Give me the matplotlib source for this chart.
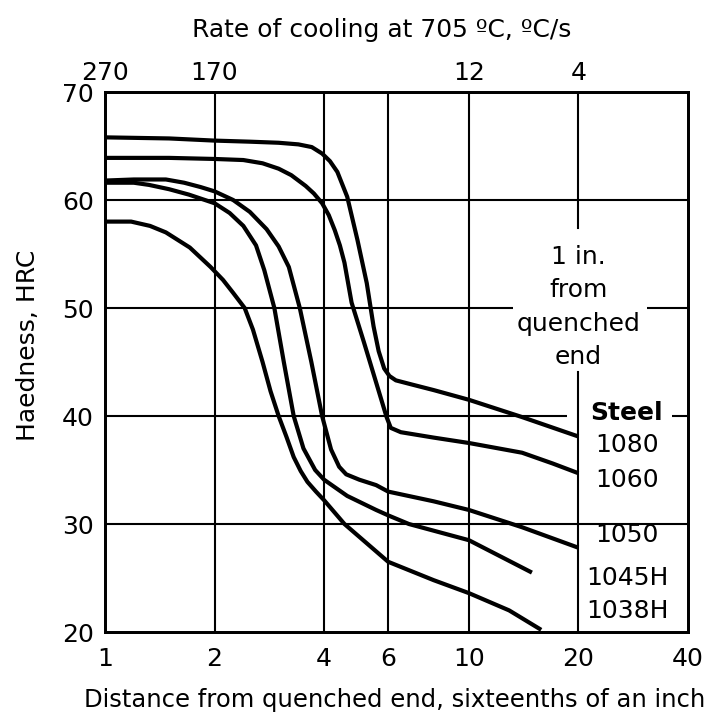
import matplotlib
matplotlib.use("Agg")
import matplotlib.pyplot as plt
from matplotlib.ticker import FixedLocator, NullLocator, FixedFormatter

plt.rcParams['font.family'] = ['DejaVu Sans']

# ---- data (distance in sixteenths of an inch, hardness HRC) ----
dist_1080 = [1, 1.5, 2, 2.5, 3, 3.4, 3.7, 3.95, 4.15, 4.35, 4.63, 4.94, 5.24, 5.47, 5.65, 5.85, 6.05, 6.3, 7, 8, 10, 14, 20]
hrc_1080 = [65.8, 65.7, 65.5, 65.4, 65.3, 65.15, 64.9, 64.3, 63.6, 62.6, 60.3, 56.3, 52.3, 48.3, 46.0, 44.4, 43.7, 43.3, 42.9, 42.4, 41.5, 39.9, 38.1]

dist_1060 = [1, 1.5, 2, 2.4, 2.71, 3.0, 3.25, 3.56, 3.75, 3.95, 4.12, 4.28, 4.42, 4.55, 4.76, 5.15, 5.56, 5.94, 6.1, 6.5, 8, 10, 14, 17, 20]
hrc_1060 = [63.9, 63.9, 63.8, 63.7, 63.4, 62.9, 62.3, 61.3, 60.6, 59.7, 58.6, 57.2, 55.8, 54.2, 50.5, 46.8, 43.1, 39.9, 38.9, 38.5, 38.0, 37.5, 36.6, 35.6, 34.7]

dist_1050 = [1, 1.2, 1.47, 1.65, 1.83, 2.0, 2.25, 2.5, 2.78, 3.0, 3.2, 3.43, 3.69, 3.95, 4.18, 4.4, 4.6, 5.0, 5.56, 6.0, 8, 10, 14, 20]
hrc_1050 = [61.8, 61.9, 61.9, 61.6, 61.2, 60.8, 60.0, 58.9, 57.3, 55.7, 53.8, 50.0, 45.0, 40.0, 36.9, 35.3, 34.6, 34.1, 33.6, 33.0, 32.1, 31.3, 29.7, 27.8]

dist_1045 = [1, 1.2, 1.32, 1.5, 1.7, 2, 2.2, 2.4, 2.6, 2.74, 2.92, 3.1, 3.3, 3.51, 3.78, 4.0, 4.63, 5.56, 6.0, 6.84, 10, 14.9]
hrc_1045 = [61.6, 61.6, 61.4, 61.0, 60.5, 59.7, 58.8, 57.6, 55.8, 53.5, 50.0, 45.0, 40.0, 37.0, 35.0, 34.1, 32.6, 31.3, 30.8, 30.0, 28.5, 25.5]

dist_1038 = [1, 1.18, 1.33, 1.47, 1.71, 1.95, 2.11, 2.25, 2.42, 2.55, 2.71, 2.85, 3.0, 3.15, 3.3, 3.45, 3.6, 3.8, 4.0, 4.55, 6.0, 8, 10, 12.9, 15.8]
hrc_1038 = [58.0, 58.0, 57.6, 57.0, 55.6, 53.8, 52.6, 51.4, 50.0, 48.0, 45.0, 42.3, 40.0, 38.1, 36.2, 34.9, 33.9, 33.0, 32.2, 30.0, 26.5, 24.8, 23.6, 22.0, 20.2]

steel_names = ['1080', '1060', '1050', '1045H', '1038H']
bottom_ticks = [1, 2, 4, 6, 10, 20, 40]
bottom_labels = ['1', '2', '4', '6', '10', '20', '40']
top_ticks = [1, 2, 10, 20]
top_labels = ['270', '170', '12', '4']
y_ticks = [20, 30, 40, 50, 60, 70]

# ---- figure ----
W, H = 709, 721
fig = plt.figure(figsize=(W / 100, H / 100), dpi=100)
L, R, T, B = 105, 688, 92, 632
ax = fig.add_axes([L / W, 1 - B / H, (R - L) / W, (B - T) / H])
ax.set_xscale('log')
ax.set_xlim(1, 40)
ax.set_ylim(20, 70)

FS = 18
gl = dict(color='black', lw=1.5, zorder=1)
for xv in [2, 4, 6, 10]:
    ax.axvline(xv, **gl)
ax.axvline(20, ymin=0, ymax=0.482, **gl)
ax.axvline(20, ymin=0.748, ymax=1, **gl)
ax.hlines([30, 60], 1, 40, **gl)
ax.hlines(50, 1, 13.2, **gl)
ax.hlines(50, 30.9, 40, **gl)
ax.hlines(40, 1, 18.6, **gl)
ax.hlines(40, 36.1, 40, **gl)

ck = dict(color='black', lw=3.0, solid_joinstyle='round', solid_capstyle='butt', zorder=3)
for d, h in [(dist_1080, hrc_1080), (dist_1060, hrc_1060), (dist_1050, hrc_1050),
             (dist_1045, hrc_1045), (dist_1038, hrc_1038)]:
    ax.plot(d, h, **ck)

for s in ax.spines.values():
    s.set_linewidth(2.0)

ax.xaxis.set_major_locator(FixedLocator(bottom_ticks))
ax.xaxis.set_major_formatter(FixedFormatter(bottom_labels))
ax.xaxis.set_minor_locator(NullLocator())
ax.set_yticks(y_ticks)
ax.tick_params(axis='both', length=0, labelsize=FS)
ax.tick_params(axis='x', pad=11)
ax.tick_params(axis='y', pad=8)

ax.set_xlabel('Distance from quenched end, sixteenths of an inch', fontsize=17.5)
ax.xaxis.label.set_va('center')
ax.xaxis.set_label_coords(0.497, -0.126)
ax.set_ylabel('Haedness, HRC', fontsize=FS)
ax.yaxis.label.set_va('center')
ax.yaxis.set_label_coords(-0.132, 0.531)

ax2 = ax.twiny()
ax2.set_xscale('log')
ax2.set_xlim(1, 40)
ax2.xaxis.set_major_locator(FixedLocator(top_ticks))
ax2.xaxis.set_major_formatter(FixedFormatter(top_labels))
ax2.xaxis.set_minor_locator(NullLocator())
ax2.tick_params(axis='x', length=0, labelsize=FS, pad=5)
ax2.set_xlabel('Rate of cooling at 705 \u00baC, \u00baC/s', fontsize=FS)
ax2.xaxis.label.set_va('center')
ax2.xaxis.set_label_coords(0.475, 1.115)
for s in ax2.spines.values():
    s.set_linewidth(2.0)

# annotations
for txt, yv in [('1 in.', 54.7), ('from', 51.7), ('quenched', 48.5), ('end', 45.5)]:
    ax.text(20, yv, txt, ha='center', va='center', fontsize=FS, zorder=4)
xl = 27.2
ax.text(xl, 40.3, 'Steel', ha='center', va='center', fontsize=FS, fontweight='bold')
for name, yv in zip(steel_names, [37.3, 34.1, 29.0, 25.0, 21.9]):
    ax.text(xl, yv, name, ha='center', va='center', fontsize=FS)

fig.savefig('out.png', dpi=100)
